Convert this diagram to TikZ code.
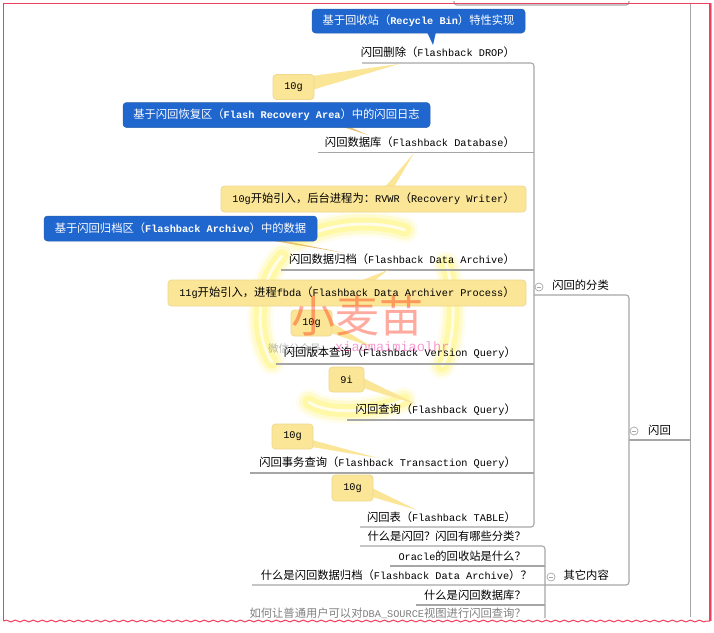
\documentclass[tikz,border=0pt]{standalone}
\usepackage{fontspec}
\setmainfont{Noto Sans CJK SC}
\newfontfamily\latinmono{Liberation Mono}
\newcommand{\mn}[1]{{\latinmono\fontsize{10.25}{12}\selectfont #1}}
\newcommand{\mb}[1]{{\latinmono\bfseries\fontsize{10.25}{12}\selectfont #1}}
\usetikzlibrary{decorations.pathmorphing,calc}
\definecolor{framered}{HTML}{F04060}
\definecolor{framepink}{HTML}{F0A0A8}
\definecolor{branchgray}{HTML}{A6A6A6}
\definecolor{noteblue}{HTML}{1F66CF}
\definecolor{notebluedark}{HTML}{2C62B0}
\definecolor{noteyellow}{HTML}{FBE596}
\definecolor{noteedge}{HTML}{EFD98F}
\definecolor{notetan}{HTML}{E8C070}
\definecolor{glowyellow}{HTML}{FFF45A}
\tikzset{
  topic/.style={anchor=east,inner sep=0pt,font=\fontsize{11.3}{13}\selectfont,text=black},
  branch/.style={draw=branchgray,line width=1.1pt,rounded corners=3pt},
  bluenote/.style={draw=notebluedark,fill=noteblue,rounded corners=3.5pt,text=white,inner sep=0pt,font=\fontsize{11.3}{13}\selectfont,line width=.5pt},
  yellownote/.style={draw=noteedge,fill=noteyellow,rounded corners=3.5pt,text=black,inner sep=0pt,font=\fontsize{11.3}{13}\selectfont,line width=.8pt},
  bluetail/.style={fill=noteblue},
  yellowtail/.style={fill=noteyellow},
  tantail/.style={fill=notetan},
  foldmark/.style={circle,draw=branchgray,fill=white,minimum size=8pt,inner sep=0pt,line width=.7pt,path picture={\draw[branchgray,line width=.7pt] (path picture bounding box.center)++(-2pt,0)--++(4pt,0);}},
}
\newcommand{\wglow}[1]{%
  \draw[glowyellow,opacity=.10,line width=26pt,line cap=round] #1;
  \draw[glowyellow,opacity=.20,line width=20pt,line cap=round] #1;
  \draw[glowyellow,opacity=.35,line width=13pt,line cap=round] #1;
  \draw[white,opacity=.75,line width=3pt,line cap=round] #1;
}
\begin{document}
\begin{tikzpicture}[x=1pt,y=-1pt]
\useasboundingbox (0,0) rectangle (714,632);
\fill[white] (0,0) rectangle (714,632);

% watermark glow
\wglow{(282,256) .. controls (256,285) and (254,335) .. (272,362)}
\wglow{(298,240) .. controls (330,222) and (375,220) .. (405,230)}
\wglow{(446,264) .. controls (456,295) and (456,340) .. (442,366)}
\wglow{(309,402) .. controls (325,414) and (370,414) .. (404,400)}

% outer structure
\draw[branchgray,line width=1pt] (690,3) -- (690,617);
\draw[branch] (454,1) -- (454,5) -- (629,5) -- (629,1);

% branch nodes
\node[topic] (drop) at (515,52) {闪回删除（\mn{Flashback DROP}）};
\node[topic] (fdb) at (515,142) {闪回数据库（\mn{Flashback Database}）};
\node[topic] (fda) at (515,259) {闪回数据归档（\mn{Flashback Data Archive}）};
\node[topic] (fvq) at (516,353) {闪回版本查询（\mn{Flashback Version Query}）};
\node[topic] (fq) at (516,410) {闪回查询（\mn{Flashback Query}）};
\node[topic] (ftq) at (516,463) {闪回事务查询（\mn{Flashback Transaction Query}）};
\node[topic] (ftb) at (516,517) {闪回表（\mn{Flashback TABLE}）};
\node[topic] (cat) at (609,285) {闪回的分类};
\node[topic] (root) at (671,430) {闪回};
\node[topic] (other) at (609,575) {其它内容};
\node[topic] (q1) at (526,536) {什么是闪回？闪回有哪些分类？};
\node[topic] (q2) at (526,556) {\mn{Oracle}的回收站是什么？};
\node[topic] (q3) at (532,575) {什么是闪回数据归档（\mn{Flashback Data Archive}）？};
\node[topic] (q4) at (526,595) {什么是闪回数据库？};
\node[topic,text=black!50] (q5) at (526,613) {如何让普通用户可以对\mn{DBA\_SOURCE}视图进行闪回查询？};

% connectors
\coordinate (dropL) at (362,63);
\coordinate (fdbL) at (318,152.5);
\coordinate (fdaL) at (281,270);
\coordinate (fvqL) at (276,364);
\coordinate (fqL) at (347,420);
\coordinate (ftqL) at (250,473);
\coordinate (ftbL) at (360,527);
\coordinate (catL) at (534,295);
\coordinate (catR) at (629,295);
\coordinate (rootR) at (690,440);
\coordinate (otherR) at (629,585);
\coordinate (q1L) at (360,546);
\coordinate (q2L) at (390,566);
\coordinate (q3L) at (252,585);
\coordinate (q4L) at (416,605);
\coordinate (brk) at (545,546);

\draw[branch] (dropL) -- (534,63) -- (534,527) -- (ftbL);
\draw[branch] (fdbL) -- (534,152.5);
\draw[branch] (fdaL) -- (534,270);
\draw[branch] (fvqL) -- (534,364);
\draw[branch] (fqL) -- (534,420);
\draw[branch] (ftqL) -- (534,473);
\draw[branch] (catL) -- (catR) -- (otherR) -- (q3L);
\draw[branch] (629,440) -- (rootR);
\draw[branch] (q1L) -- (brk) -- (545,618);
\draw[branch] (q2L) -- (545,566);
\draw[branch] (q4L) -- (545,605);

% tails
\coordinate (t1) at (433,45);
\coordinate (t2) at (399,64);
\coordinate (t3) at (368,135);
\coordinate (t4) at (414,153);
\coordinate (t5) at (345,253);
\coordinate (t6) at (388,270);
\coordinate (t7) at (372,347);
\coordinate (t8) at (416,404);
\coordinate (t9) at (378,458);
\coordinate (t10) at (417,510);

\path[bluetail] (427,32) -- (t1) -- (436,32) -- cycle;
\path[yellowtail] (312,76) -- (t2) -- (312,90) -- cycle;
\path[tantail] (343,127) -- (t3) -- (350,127) -- cycle;
\path[yellowtail] (385,187) -- (t4) -- (394,187) -- cycle;
\path[tantail] (268,240) -- (t5) -- (280,240) -- cycle;
\path[yellowtail] (360,281) -- (t6) -- (374,281) -- cycle;
\path[yellowtail] (331,322) -- (t7) -- (331,333) -- cycle;
\path[yellowtail] (363,378) -- (t8) -- (363,388) -- cycle;
\path[yellowtail] (312,440) -- (t9) -- (312,447) -- cycle;
\path[yellowtail] (372,488) -- (t10) -- (372,497) -- cycle;

% notes
\node[bluenote,minimum width=213pt,minimum height=24pt] (n1) at (418.5,21) {基于回收站（\mb{Recycle Bin}）特性实现};
\node[yellownote,minimum width=41pt,minimum height=25pt] (n2) at (293.5,87) {\mn{10g}};
\node[bluenote,minimum width=307pt,minimum height=25pt] (n3) at (276.5,115) {基于闪回恢复区（\mb{Flash Recovery Area}）中的闪回日志};
\node[yellownote,minimum width=305pt,minimum height=26pt] (n4) at (373.5,199) {\mn{10g}开始引入，后台进程为：\mn{RVWR}（\mn{Recovery Writer}）};
\node[bluenote,minimum width=273pt,minimum height=25pt] (n5) at (180.5,228.5) {基于闪回归档区（\mb{Flashback Archive}）中的数据};
\node[yellownote,minimum width=358pt,minimum height=26pt] (n6) at (347,293) {\mn{11g}开始引入，进程\mn{fbda}（\mn{Flashback Data Archiver Process}）};
\node[yellownote,minimum width=41pt,minimum height=26pt] (n7) at (311.5,323) {\mn{10g}};
\node[yellownote,minimum width=35pt,minimum height=25pt] (n8) at (346.5,379.5) {\mn{9i}};
\node[yellownote,minimum width=41pt,minimum height=25pt] (n9) at (292.5,436.5) {\mn{10g}};
\node[yellownote,minimum width=41pt,minimum height=26pt] (n10) at (352.5,488) {\mn{10g}};

% fold marks
\node[foldmark] (f1) at (539,287) {};
\node[foldmark] (f2) at (634,431) {};
\node[foldmark] (f3) at (551,577) {};

% watermark text
\node[inner sep=0pt,text=red!75!orange,opacity=.38,font=\fontsize{44}{46}\selectfont] (wm) at (357,316) {小麦苗};
\node[inner sep=0pt,opacity=.4,anchor=west,font=\fontsize{10.5}{12}\selectfont,text=black!70] (wmsub) at (268,348) {微信公众号：};
\node[inner sep=0pt,opacity=.4,anchor=west,text=magenta,font=\latinmono\fontsize{13.6}{14}\selectfont] (wmid) at (335,347) {xiaomaimiaolhr};

% frame
\draw[framepink,line width=1pt] (711,3) -- (711,621);
\draw[framered,line width=1.5pt] (3.5,621) -- (3.5,3.5) -- (710,3.5) -- (710,621);
\draw[framered,line width=1pt,decorate,decoration={snake,amplitude=.9pt,segment length=9pt}] (3.5,621) -- (710,621);
\fill[white] (0,623) rectangle (714,632);
\end{tikzpicture}
\end{document}
